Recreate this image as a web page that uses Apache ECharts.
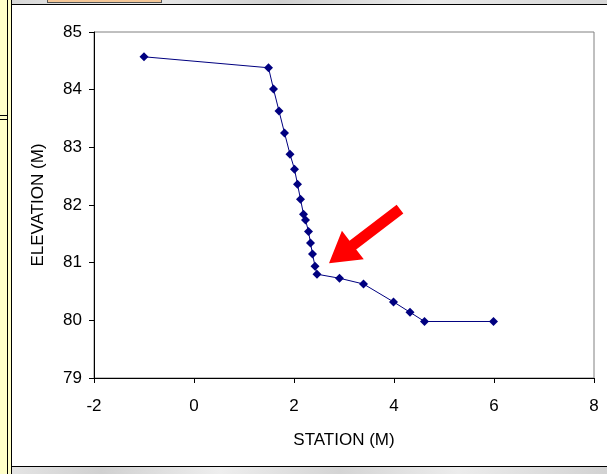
<!DOCTYPE html>
<html><head><meta charset="utf-8">
<script src="https://cdn.jsdelivr.net/npm/echarts@6/dist/echarts.min.js"></script>
<style>
html,body{margin:0;padding:0;width:607px;height:474px;overflow:hidden;background:#fff;}
#wrap{position:relative;width:607px;height:474px;}
#topbar{position:absolute;left:12px;top:0;width:595px;height:4px;background:linear-gradient(90deg,#d8d8d8,#ececec 20%,#d0d0d0 45%,#eaeaea 70%,#d6d6d6);border-bottom:1.5px solid #000;}
#peach{position:absolute;left:47px;top:0;width:113px;height:2px;background:#f5c898;border:1px solid #555;border-top:none;}
#botbar{position:absolute;left:12px;top:466px;width:595px;height:8px;background:linear-gradient(90deg,#e4e4e4,#d0d0d0 15%,#eeeeee 35%,#d4d4d4 55%,#ececec 75%,#d2d2d2);border-top:1.5px solid #000;box-sizing:border-box;}
#leftpanel{position:absolute;left:0;top:0;width:12px;height:474px;background:#ffffc8;}
#l1{position:absolute;left:7px;top:0;width:1px;height:474px;background:#000;}
#l2{position:absolute;left:11px;top:0;width:1px;height:474px;background:#000;}
#h1{position:absolute;left:0;top:115px;width:7px;height:1px;background:#000;}
#h2{position:absolute;left:0;top:119px;width:7px;height:1px;background:#000;}
#chart{position:absolute;left:12px;top:5px;width:595px;height:461px;}
</style></head>
<body><div id="wrap">
<div id="leftpanel"></div><div id="l1"></div><div id="l2"></div><div id="h1"></div><div id="h2"></div>
<div id="topbar"></div><div id="peach"></div>
<div id="chart"></div>
<div id="botbar"></div>
</div>
<script>
const station = [-1.0, 1.49, 1.59, 1.70, 1.81, 1.92, 2.01, 2.07, 2.13, 2.19, 2.23, 2.29, 2.33, 2.37, 2.42, 2.46, 2.91, 3.39, 3.99, 4.32, 4.61, 5.99];
const elevation = [84.57, 84.38, 84.01, 83.63, 83.25, 82.88, 82.62, 82.36, 82.10, 81.84, 81.74, 81.54, 81.34, 81.15, 80.94, 80.80, 80.73, 80.63, 80.32, 80.14, 79.98, 79.98];
const arrowTip = [2.70, 80.99];
const arrowTail = [4.12, 81.93];
const xName = 'STATION (M)';
const yName = 'ELEVATION (M)';

const font = "'Liberation Sans', Arial, sans-serif";
const chart = echarts.init(document.getElementById('chart'), null, {renderer:'canvas'});
const pts = station.map((x,i)=>[x, elevation[i]]);
chart.setOption({
  animation:false,
  backgroundColor:'#fff',
  grid:{left:82, right:13, top:27, bottom:88, show:true, borderColor:'#808080', borderWidth:1, backgroundColor:'transparent'},
  xAxis:{type:'value', min:-2, max:8, interval:2,
    name:xName, nameLocation:'middle', nameGap:54,
    nameTextStyle:{fontFamily:font, fontSize:17, color:'#000'},
    axisLine:{show:true, onZero:false, lineStyle:{color:'#000', width:1}},
    axisTick:{show:true, inside:false, length:5, lineStyle:{color:'#000'}},
    axisLabel:{fontFamily:font, fontSize:17, color:'#000', margin:20},
    splitLine:{show:false}},
  yAxis:{type:'value', min:79, max:85, interval:1,
    name:yName, nameLocation:'middle', nameGap:47,
    nameTextStyle:{fontFamily:font, fontSize:17, color:'#000'},
    axisLine:{show:true, onZero:false, lineStyle:{color:'#000', width:1}},
    axisTick:{show:true, inside:false, length:5, lineStyle:{color:'#000'}},
    axisLabel:{fontFamily:font, fontSize:17, color:'#000', margin:12},
    splitLine:{show:false}},
  series:[{type:'line', data:pts, symbol:'diamond', symbolSize:9,
    lineStyle:{color:'#000080', width:1}, itemStyle:{color:'#000080'}}]
});

function drawArrow(){
  const tip = chart.convertToPixel({gridIndex:0}, arrowTip);
  const tail = chart.convertToPixel({gridIndex:0}, arrowTail);
  const dx = tail[0]-tip[0], dy = tail[1]-tip[1];
  const L = Math.hypot(dx,dy);
  const ux = dx/L, uy = dy/L, nx = -uy, ny = ux;
  const headLen = 30, headW = 18, shaftW = 5.5;
  const b = [tip[0]+ux*headLen, tip[1]+uy*headLen];
  const p = (base, w)=>[base[0]+nx*w, base[1]+ny*w];
  const points = [tip, p(b,headW), p(b,shaftW), p(tail,shaftW), p(tail,-shaftW), p(b,-shaftW), p(b,-headW)];
  chart.setOption({graphic:[{type:'polygon', shape:{points}, style:{fill:'#ff0000'}, z:100}]});
}
drawArrow();
</script>
</body></html>
